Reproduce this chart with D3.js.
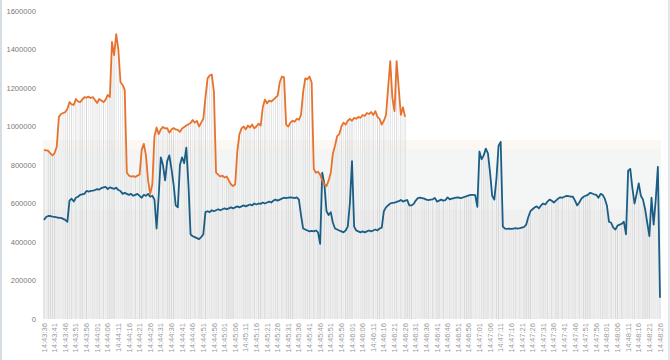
<!DOCTYPE html>
<html><head><meta charset="utf-8">
<script src="https://cdn.jsdelivr.net/npm/d3@7/dist/d3.min.js"></script>
<style>body{margin:0;background:#fff}svg{display:block}</style>
</head><body>
<svg id="c" width="670" height="360"></svg>
<script>
const startTime = "14:43:36";
const yTicks = [0,200000,400000,600000,800000,1000000,1200000,1400000,1600000];
// orange series (one value per second, from start)
const orangeSeries = [878000,876000,874000,860000,850000,862000,895000,1050000,1065000,1070000,1075000,1091000,1127000,1115000,1112000,1143000,1130000,1127000,1140000,1153000,1150000,1155000,1148000,1153000,1138000,1122000,1143000,1135000,1127000,1140000,1164000,1153000,1439000,1371000,1480000,1400000,1231000,1216000,1190000,760000,745000,740000,742000,738000,745000,750000,880000,910000,850000,720000,650000,700000,950000,995000,960000,985000,998000,990000,992000,968000,985000,992000,985000,982000,972000,990000,997000,1005000,1012000,1018000,1034000,1020000,1029000,1000000,1020000,1040000,1150000,1250000,1265000,1270000,1180000,760000,750000,740000,745000,735000,740000,720000,700000,690000,700000,870000,960000,990000,1000000,985000,1005000,995000,1010000,990000,1000000,1015000,1005000,1100000,1140000,1120000,1135000,1130000,1140000,1150000,1160000,1230000,1260000,1255000,1010000,1000000,1020000,1030000,1025000,1040000,1035000,1060000,1180000,1250000,1245000,1260000,1230000,780000,760000,765000,750000,720000,700000,690000,720000,760000,860000,900000,950000,960000,1000000,1020000,1010000,1030000,1040000,1030000,1045000,1040000,1050000,1045000,1060000,1055000,1070000,1065000,1075000,1060000,1080000,1050000,1040000,1010000,1030000,1060000,1200000,1340000,1150000,1080000,1340000,1200000,1060000,1100000,1050000];
// blue series
const blueSeries = [515000,530000,535000,535000,532000,530000,528000,525000,525000,520000,515000,505000,615000,625000,610000,630000,635000,645000,648000,650000,665000,662000,665000,667000,670000,675000,672000,680000,684000,686000,675000,684000,680000,676000,682000,670000,665000,650000,655000,650000,645000,650000,640000,645000,650000,640000,630000,645000,640000,650000,635000,640000,620000,470000,640000,840000,800000,720000,820000,850000,780000,700000,590000,580000,800000,840000,810000,890000,700000,440000,430000,425000,420000,415000,425000,440000,555000,560000,555000,565000,560000,565000,570000,565000,570000,575000,570000,575000,580000,575000,580000,585000,580000,585000,590000,585000,590000,595000,590000,600000,595000,600000,598000,605000,600000,605000,610000,605000,615000,620000,615000,620000,625000,630000,628000,630000,632000,630000,628000,632000,620000,540000,470000,465000,460000,455000,458000,455000,460000,450000,390000,760000,700000,560000,540000,555000,500000,470000,465000,460000,455000,450000,460000,480000,600000,820000,480000,460000,455000,450000,455000,450000,455000,460000,455000,460000,465000,460000,470000,475000,560000,580000,590000,600000,603000,605000,608000,612000,618000,610000,615000,618000,590000,590000,598000,615000,628000,630000,628000,625000,620000,618000,620000,622000,629000,610000,615000,620000,615000,618000,632000,622000,625000,628000,630000,632000,628000,630000,635000,638000,642000,645000,645000,644000,582000,870000,830000,850000,885000,860000,760000,640000,620000,730000,900000,920000,480000,470000,468000,470000,468000,470000,472000,470000,472000,475000,478000,490000,530000,560000,570000,580000,585000,575000,590000,600000,595000,610000,620000,615000,605000,615000,625000,632000,630000,635000,640000,638000,636000,635000,615000,590000,605000,625000,635000,640000,645000,655000,652000,648000,645000,630000,650000,645000,625000,590000,505000,500000,475000,465000,485000,490000,495000,505000,440000,770000,780000,680000,600000,650000,705000,640000,620000,570000,500000,430000,630000,490000,620000,790000,110000];

const svg = d3.select("#c");
const W = 670, H = 360;
const m = {left: 44, right: 10, top: 11, bottom: 41};
const parse = d3.timeParse("%H:%M:%S");
const t0 = parse(startTime);
const n = blueSeries.length;
const times = blueSeries.map((_, i) => d3.timeSecond.offset(t0, i));
const x = d3.scaleTime().domain([times[0], times[n-1]]).range([m.left, W - m.right]);
const y = d3.scaleLinear().domain([0, 1600000]).range([H - m.bottom, m.top]);

// frame edges
svg.append("rect").attr("x",0).attr("y",0).attr("width",2).attr("height",H).attr("fill","#d6dee3");
svg.append("rect").attr("x",W-2).attr("y",0).attr("width",2).attr("height",H).attr("fill","#e3e7ea");

// faint background bands
const bx0 = x(times[0]) - 1, bx1 = x(times[n-1]) + 1;
svg.append("rect").attr("x",bx0).attr("width",bx1-bx0).attr("y",y(930000)).attr("height",y(0)-y(930000)).attr("fill","#fbf7f3");
svg.append("rect").attr("x",bx0).attr("width",bx1-bx0).attr("y",y(880000)).attr("height",y(0)-y(880000)).attr("fill","#f4f6f6");
svg.append("rect").attr("x",bx0).attr("width",bx1-bx0).attr("y",y(570000)).attr("height",y(0)-y(570000)).attr("fill","#f0f0f0");

// vertical gray bars
const grays = ["#dcdcdc","#e6e6e6","#d6d6d6","#ebebeb","#e0e0e0","#e9e9e9","#d9d9d9"];
const barData = blueSeries.map((b, i) => ({t: times[i], v: i < orangeSeries.length ? Math.max(b, orangeSeries[i]) : b, i}));
svg.append("g").selectAll("rect").data(barData).join("rect")
  .attr("x", d => x(d.t) - 0.5).attr("width", 1)
  .attr("y", d => y(d.v)).attr("height", d => y(0) - y(d.v))
  .attr("fill", d => grays[(d.i * 3 + (d.i >> 2)) % grays.length]);

// y axis labels
svg.append("g").selectAll("text").data(yTicks).join("text")
  .attr("x", 36).attr("y", d => y(d)).attr("dy","0.35em")
  .attr("text-anchor","end").attr("font-family","Liberation Sans, Arial, sans-serif")
  .attr("font-size","7.6px").attr("fill","#7a7a7a").text(d => d);

// x axis labels
const fmt = d3.timeFormat("%H:%M:%S");
const xTicks = times.filter((_, i) => i % 5 === 0);
svg.append("g").selectAll("text").data(xTicks).join("text")
  .attr("transform", d => `translate(${x(d)+2.6},323) rotate(-90)`)
  .attr("text-anchor","end").attr("font-family","Liberation Sans, Arial, sans-serif")
  .attr("font-size","7.6px").attr("fill","#9a9a9a").text(d => fmt(d));

// lines
const line = d3.line().x((d, i) => x(times[i])).y(d => y(d)).curve(d3.curveLinear);
svg.append("path").datum(blueSeries).attr("d", line).attr("fill","none")
  .attr("stroke","#1a5e86").attr("stroke-width",1.8).attr("stroke-linejoin","round");
svg.append("path").datum(orangeSeries).attr("d", line).attr("fill","none")
  .attr("stroke","#e8722c").attr("stroke-width",1.8).attr("stroke-linejoin","round");
</script>
</body></html>
